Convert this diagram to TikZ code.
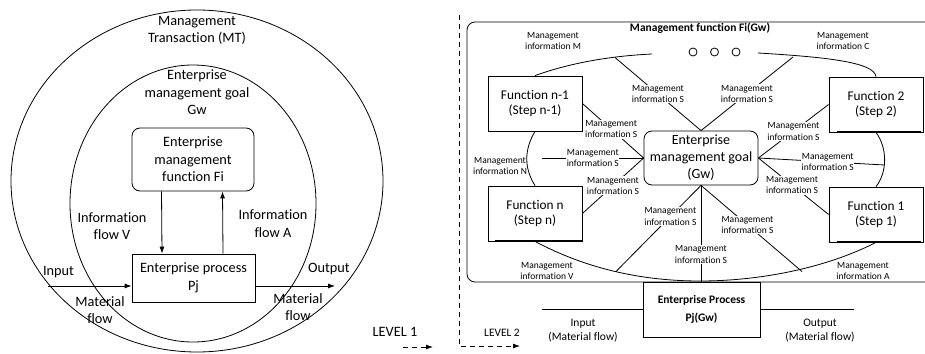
\documentclass[tikz,border=0pt]{standalone}
\usepackage{fontspec}
\setmainfont{Carlito}[Ligatures=NoCommon]
\usetikzlibrary{arrows.meta,calc}
\begin{document}
\begin{tikzpicture}[x=1pt,y=-1pt,line width=0.8pt,
  bigtxt/.style={font=\fontsize{14.3}{17.5}\selectfont, align=center, inner sep=0pt},
  smalltxt/.style={font=\fontsize{9.5}{11.5}\selectfont, align=center, inner sep=0.6pt},
  onlinetxt/.style={smalltxt, fill=white},
  midtxt/.style={font=\fontsize{11.5}{14}\selectfont, align=center, inner sep=0pt},
  funcbox/.style={draw, fill=white, minimum width=94pt, minimum height=55pt, align=center,
                  font=\fontsize{13.3}{15}\selectfont, inner sep=0pt},
  flowarrow/.style={-{Latex[length=7pt,width=5pt]}},
  levelarrow/.style={dash pattern=on 5pt off 4pt, -{Latex[length=7pt,width=5pt]}},
  shadowline/.style={line width=2pt},
  dot/.style={circle, draw, minimum size=8pt, inner sep=0pt},
]
\clip (0,0) rectangle (925,353);

% ---------------- Level 1: nested management rings ----------------
\draw (197,181) ellipse [x radius=186, y radius=171];
\draw (193,203.5) ellipse [x radius=123, y radius=138.5];

\node[bigtxt] (mt) at (197,30.5) {Management\\Transaction (MT)};
\node[bigtxt] (gw) at (197,92.5) {Enterprise\\management goal\\Gw};

\node[draw, rounded corners=8pt, minimum width=122pt, minimum height=63pt,
      bigtxt] (fi) at (193,159.5) {Enterprise\\management\\function Fi};
\node[draw, fill=white, minimum width=123pt, minimum height=48pt,
      bigtxt] (pj) at (193.5,278) {Enterprise process\\Pj};

\draw[flowarrow] ([xshift=-31.5pt]fi.south) -- ([xshift=-31.5pt]pj.north);
\draw[flowarrow] ([xshift=29.5pt]pj.north) -- ([xshift=29.5pt]fi.south);

\node[bigtxt] (infov) at (112,226) {Information\\flow V};
\node[bigtxt] (infoa) at (273,223.5) {Information\\flow A};

\coordinate (inL) at (48,286);
\coordinate (outR) at (335,286);
\draw[flowarrow] (inL) -- (inL -| pj.west);
\draw[flowarrow] (pj.east |- outR) -- (outR);

\node[bigtxt] (inlbl) at (58.5,272) {Input};
\node[bigtxt] (outlbl) at (329,269.5) {Output};
\node[bigtxt] (matL) at (100,310) {Material\\flow};
\node[bigtxt] (matR) at (298,307) {Material\\flow};

\node[bigtxt] (lv1) at (395,332) {LEVEL 1};
\coordinate (lv1a) at (403,347);
\coordinate (lv1b) at (433,347);
\draw[levelarrow] (lv1a) -- (lv1b);

% ---------------- Level 2: management function Fi(Gw) ----------------
\coordinate (lv2top) at (459,15);
\coordinate (lv2end) at (520,346);
\draw[levelarrow] (lv2top) |- (lv2end);
\node[font=\fontsize{11.4}{13}\selectfont, inner sep=0pt] (lv2) at (502,333) {LEVEL 2};

\draw[rounded corners=8pt] (467,22) rectangle (945,282);
\node[font=\bfseries\fontsize{11.5}{13}\selectfont, inner sep=0pt] (title) at (700,28) {Management function Fi(Gw)};

\node[smalltxt] (infM) at (553,41) {Management\\information M};
\node[smalltxt] (infC) at (843,41) {Management\\information C};

\node[dot] (d1) at (693,52) {};
\node[dot] (d2) at (714.5,52) {};
\node[dot] (d3) at (736,52) {};

\node[draw, rounded corners=8pt, minimum width=114pt, minimum height=54pt,
      font=\fontsize{14}{17}\selectfont, align=center, inner sep=0pt] (goal) at (701,158)
      {Enterprise\\management goal\\(Gw)};

\node[funcbox] (fn1) at (535,103.5) {Function n-1\\(Step n-1)};
\node[funcbox] (fn)  at (535,213.5) {Function n\\(Step n)};
\node[funcbox] (f2)  at (876,104.5) {Function 2\\(Step 2)};
\node[funcbox] (f1)  at (876,214.5) {Function 1\\(Step 1)};

\draw[shadowline] ([xshift=7pt]fn.south west) -- (fn.south east);
\draw[shadowline] ([xshift=8pt]f2.south west) -- ([xshift=-2pt]f2.south east);
\draw[shadowline] ([xshift=8pt]f1.south west) -- ([xshift=-2pt]f1.south east);

% upper ring of management information
\coordinate (topL) at (652,54);
\coordinate (topR) at (758,53);
\draw (fn1.north) .. controls (570,63) and (610,56) .. (topL);
\draw (topR) .. controls (825,57) and (874,62) .. (f2.north);

\coordinate (tapL) at (615,57.5);
\coordinate (tapR) at (793,57);
\draw (tapL) -- node[onlinetxt, pos=0.5] (sTL) {Management\\information S} (goal.north);
\draw (tapR) -- node[onlinetxt, pos=0.5] (sTR) {Management\\information S} (goal.north);

% left-hand links
\coordinate (hL) at (542,158);
\draw (fn1.east) -- node[onlinetxt, pos=0.47] (sL1) {Management\\information S} (goal.west);
\draw (hL) -- node[onlinetxt, pos=0.5] (sL2) {Management\\information S} (goal.west);
\draw (fn.east) -- node[onlinetxt, pos=0.5] (sL3) {Management\\information S} (goal.west);

\draw (fn1.south) .. controls (524,150) and (524,168) .. (fn.north);
\node[smalltxt] (infN) at (500,166) {Management\\information N};

% right-hand links
\coordinate (hR) at (884.5,165);
\draw (goal.east) -- node[onlinetxt, pos=0.5] (sR1) {Management\\information S} (f2.west);
\draw (goal.east) -- node[onlinetxt, pos=0.55] (sR2) {Management\\information S} (hR);
\draw (goal.east) -- node[onlinetxt, pos=0.48] (sR3) {Management\\information S} (f1.west);
\draw (f2.south) .. controls (887.5,148) and (887.5,172) .. (f1.north);

% lower ring towards the enterprise process
\draw (fn.south) .. controls (585,268) and (640,281) .. (700,281)
                 .. controls (760,281) and (826,268) .. (f1.south);
\coordinate (bL) at (616,271.5);
\coordinate (bR) at (802,271.5);
\draw (goal.south) -- node[onlinetxt, pos=0.36] (sB1) {Management\\information S} (bL);
\draw (goal.south) -- node[onlinetxt, pos=0.46] (sB3) {Management\\information S} (bR);

\node[smalltxt] (infV) at (547,271) {Management\\information V};
\node[smalltxt] (infA) at (863,271) {Management\\information A};

\node[draw, fill=white, minimum width=117pt, minimum height=55pt,
      font=\bfseries\fontsize{11.5}{18}\selectfont, align=center, inner sep=0pt] (pgw) at (701.5,309.5)
      {Enterprise Process\\Pj(Gw)};
\draw (goal.south) -- node[onlinetxt, pos=0.72] (sB2) {Management\\information S} (goal.south |- pgw.north);

\coordinate (pinL) at (542,309);
\coordinate (poutR) at (854,309);
\draw (pinL) -- (pinL -| pgw.west);
\draw (pgw.east |- poutR) -- (poutR);
\node[midtxt] (pin) at (583,331) {Input\\(Material flow)};
\node[midtxt] (pout) at (820,331) {Output\\(Material flow)};
\end{tikzpicture}
\end{document}
